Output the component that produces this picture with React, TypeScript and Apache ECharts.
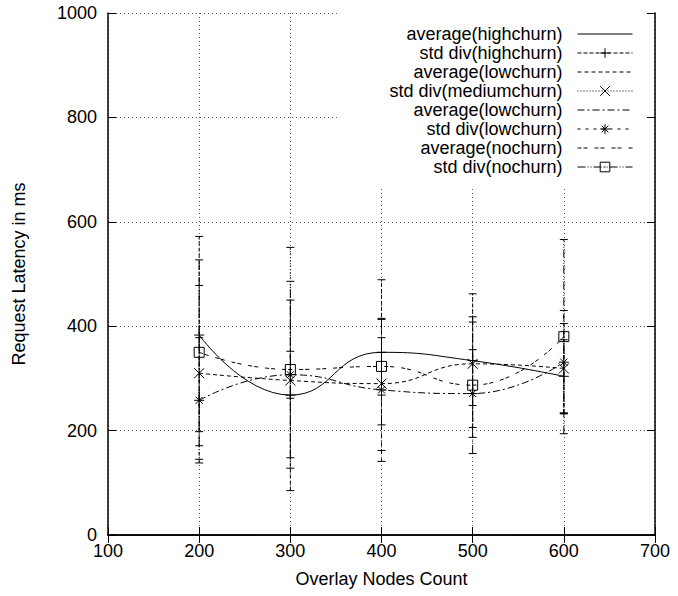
import React, { useEffect, useRef } from 'react';
import * as echarts from 'echarts';

// ---- data ----
const nodeCounts = [200, 300, 400, 500, 600];
const xTicks = [100, 200, 300, 400, 500, 600, 700];
const yTicks = [0, 200, 400, 600, 800, 1000];

const avgHighChurn = [383, 268, 350, 334, 304];
const avgMediumChurn = [310, 296, 290, 328, 319];
const avgLowChurn = [258, 307, 278, 271, 331];
const avgNoChurn = [350, 317, 323, 287, 380];

const errLowHighChurn = [198, 85, 211, 206, 234];
const errHighHighChurn = [572, 450, 489, 462, 374];
const errLowMediumChurn = [145, 128, 162, 248, 233];
const errHighMediumChurn = [478, 551, 415, 408, 405];
const errLowLowChurn = [138, 262, 141, 187, 232];
const errHighLowChurn = [378, 352, 413, 355, 430];
const errLowNoChurn = [171, 148, 268, 156, 194];
const errHighNoChurn = [527, 486, 378, 418, 566];

const legendNames = [
  'average(highchurn)',
  'std div(highchurn)',
  'average(lowchurn)',
  'std div(mediumchurn)',
  'average(lowchurn) ',
  'std div(lowchurn)',
  'average(nochurn)',
  'std div(nochurn)',
];

const FONT = 'Liberation Sans';
const FONT_SIZE = 18;

const plusPath = 'path://M0,5L10,5M5,0L5,10';
const crossPath = 'path://M0,0L10,10M0,10L10,0';
const starPath = 'path://M0,5L10,5M5,0L5,10M1.5,1.5L8.5,8.5M1.5,8.5L8.5,1.5';
const boxPath = 'path://M0,0L10,0L10,10L0,10ZM4.5,5L5.5,5';

const dashHighErr = [4, 2];
const dashMedErr = [1, 2];
const dashLowErr = [3, 5];
const dashNoErr = [8, 2, 1, 2, 1, 2];
const dashMedAvg = [4, 3];
const dashLowAvg = [7, 3, 2, 3];
const dashNoAvg = [4, 2, 4, 7];

function avgSeries(name: string, values: number[], dash: any) {
  return {
    type: 'line',
    name,
    data: nodeCounts.map((x, i) => [x, values[i]]),
    smooth: 0.5,
    symbol: 'none',
    z: 3,
    itemStyle: { color: 'transparent' },
    lineStyle: { color: '#000', width: 1, type: dash },
  };
}

function markerSeries(name: string, values: number[], symbol: string) {
  return {
    type: 'line',
    name,
    data: nodeCounts.map((x, i) => [x, values[i]]),
    symbol,
    symbolSize: 10,
    showSymbol: true,
    z: 4,
    lineStyle: { opacity: 0, color: '#000', width: 1 },
    itemStyle: { color: 'transparent', borderColor: '#000', borderWidth: 1 },
  };
}

function errSeries(id: string, lows: number[], highs: number[], dash: number[]) {
  return {
    type: 'custom',
    name: id,
    z: 2,
    data: nodeCounts.map((x, i) => [x, lows[i], highs[i]]),
    encode: { x: 0, y: [1, 2] },
    renderItem: (params: any, api: any) => {
      const x = api.value(0);
      const lo = api.coord([x, api.value(1)]);
      const hi = api.coord([x, api.value(2)]);
      const cap = 4;
      return {
        type: 'group',
        children: [
          {
            type: 'line',
            shape: { x1: lo[0], y1: lo[1], x2: hi[0], y2: hi[1] },
            style: { stroke: '#000', lineWidth: 1, lineDash: dash },
          },
          {
            type: 'line',
            shape: { x1: lo[0] - cap, y1: lo[1], x2: lo[0] + cap, y2: lo[1] },
            style: { stroke: '#000', lineWidth: 1 },
          },
          {
            type: 'line',
            shape: { x1: hi[0] - cap, y1: hi[1], x2: hi[0] + cap, y2: hi[1] },
            style: { stroke: '#000', lineWidth: 1 },
          },
        ],
      };
    },
  };
}

function errLegendItem(name: string, dash: number[]) {
  return {
    name,
    lineStyle: { opacity: 1, color: '#000', width: 1, type: dash },
    itemStyle: { color: 'transparent', borderColor: '#000', borderWidth: 1 },
  };
}

export default function App() {
  const ref = useRef<HTMLDivElement>(null);

  useEffect(() => {
    document.body.style.margin = '0';
    if (!ref.current) return;
    const chart = echarts.init(ref.current, undefined, { renderer: 'svg' });

    const axisLabel = { color: '#000', fontSize: FONT_SIZE, fontFamily: FONT };
    const axisLine = { show: true, lineStyle: { color: '#000', width: 1.5 } };
    const axisTick = { show: true, inside: true, length: 8, lineStyle: { color: '#000', width: 1 } };
    const splitLine = { show: true, lineStyle: { color: '#555', width: 1, type: [1, 3] } };

    const option: any = {
      animation: false,
      backgroundColor: '#fff',
      textStyle: { fontFamily: FONT },
      grid: { left: 108, right: 23, top: 13, bottom: 61 },
      legend: {
        orient: 'vertical',
        align: 'right',
        right: 24,
        top: 13,
        padding: [12, 21, 11, 50],
        backgroundColor: '#fff',
        itemWidth: 55,
        itemHeight: 12,
        itemGap: 1,
        selectedMode: false,
        lineStyle: { width: 1 },
        formatter: (name: string) => name.trim(),
        textStyle: { color: '#000', fontSize: FONT_SIZE, fontFamily: FONT, padding: [0, 10, 0, 0] },
        data: [
          { name: legendNames[0] },
          errLegendItem(legendNames[1], dashHighErr),
          { name: legendNames[2] },
          errLegendItem(legendNames[3], dashMedErr),
          { name: legendNames[4] },
          errLegendItem(legendNames[5], dashLowErr),
          { name: legendNames[6] },
          errLegendItem(legendNames[7], dashNoErr),
        ],
      },
      xAxis: [
        {
          type: 'value',
          min: xTicks[0],
          max: xTicks[xTicks.length - 1],
          interval: 100,
          position: 'bottom',
          name: 'Overlay Nodes Count',
          nameLocation: 'middle',
          nameGap: 35,
          nameTextStyle: { color: '#000', fontSize: FONT_SIZE, fontFamily: FONT },
          axisLine,
          axisTick,
          axisLabel: { ...axisLabel, margin: 7 },
          splitLine,
        },
        {
          type: 'value',
          min: xTicks[0],
          max: xTicks[xTicks.length - 1],
          interval: 100,
          position: 'top',
          z: 10,
          axisLine,
          axisTick,
          axisLabel: { show: false },
          splitLine: { show: false },
        },
      ],
      yAxis: [
        {
          type: 'value',
          min: yTicks[0],
          max: yTicks[yTicks.length - 1],
          interval: 200,
          position: 'left',
          name: 'Request Latency in ms',
          nameLocation: 'middle',
          nameGap: 80,
          nameTextStyle: { color: '#000', fontSize: FONT_SIZE, fontFamily: FONT },
          axisLine,
          axisTick,
          axisLabel: { ...axisLabel, margin: 11, formatter: (v: number) => String(v) },
          splitLine,
        },
        {
          type: 'value',
          min: yTicks[0],
          max: yTicks[yTicks.length - 1],
          interval: 200,
          position: 'right',
          z: 10,
          axisLine,
          axisTick,
          axisLabel: { show: false },
          splitLine: { show: false },
        },
      ],
      series: [
        errSeries('err-high', errLowHighChurn, errHighHighChurn, dashHighErr),
        errSeries('err-medium', errLowMediumChurn, errHighMediumChurn, dashMedErr),
        errSeries('err-low', errLowLowChurn, errHighLowChurn, dashLowErr),
        errSeries('err-no', errLowNoChurn, errHighNoChurn, dashNoErr),
        avgSeries(legendNames[0], avgHighChurn, 'solid'),
        markerSeries(legendNames[1], avgHighChurn, plusPath),
        avgSeries(legendNames[2], avgMediumChurn, dashMedAvg),
        markerSeries(legendNames[3], avgMediumChurn, crossPath),
        avgSeries(legendNames[4], avgLowChurn, dashLowAvg),
        markerSeries(legendNames[5], avgLowChurn, starPath),
        avgSeries(legendNames[6], avgNoChurn, dashNoAvg),
        markerSeries(legendNames[7], avgNoChurn, boxPath),
      ],
    };

    chart.setOption(option);
    return () => chart.dispose();
  }, []);

  return <div ref={ref} style={{ width: 678, height: 596 }} />;
}
